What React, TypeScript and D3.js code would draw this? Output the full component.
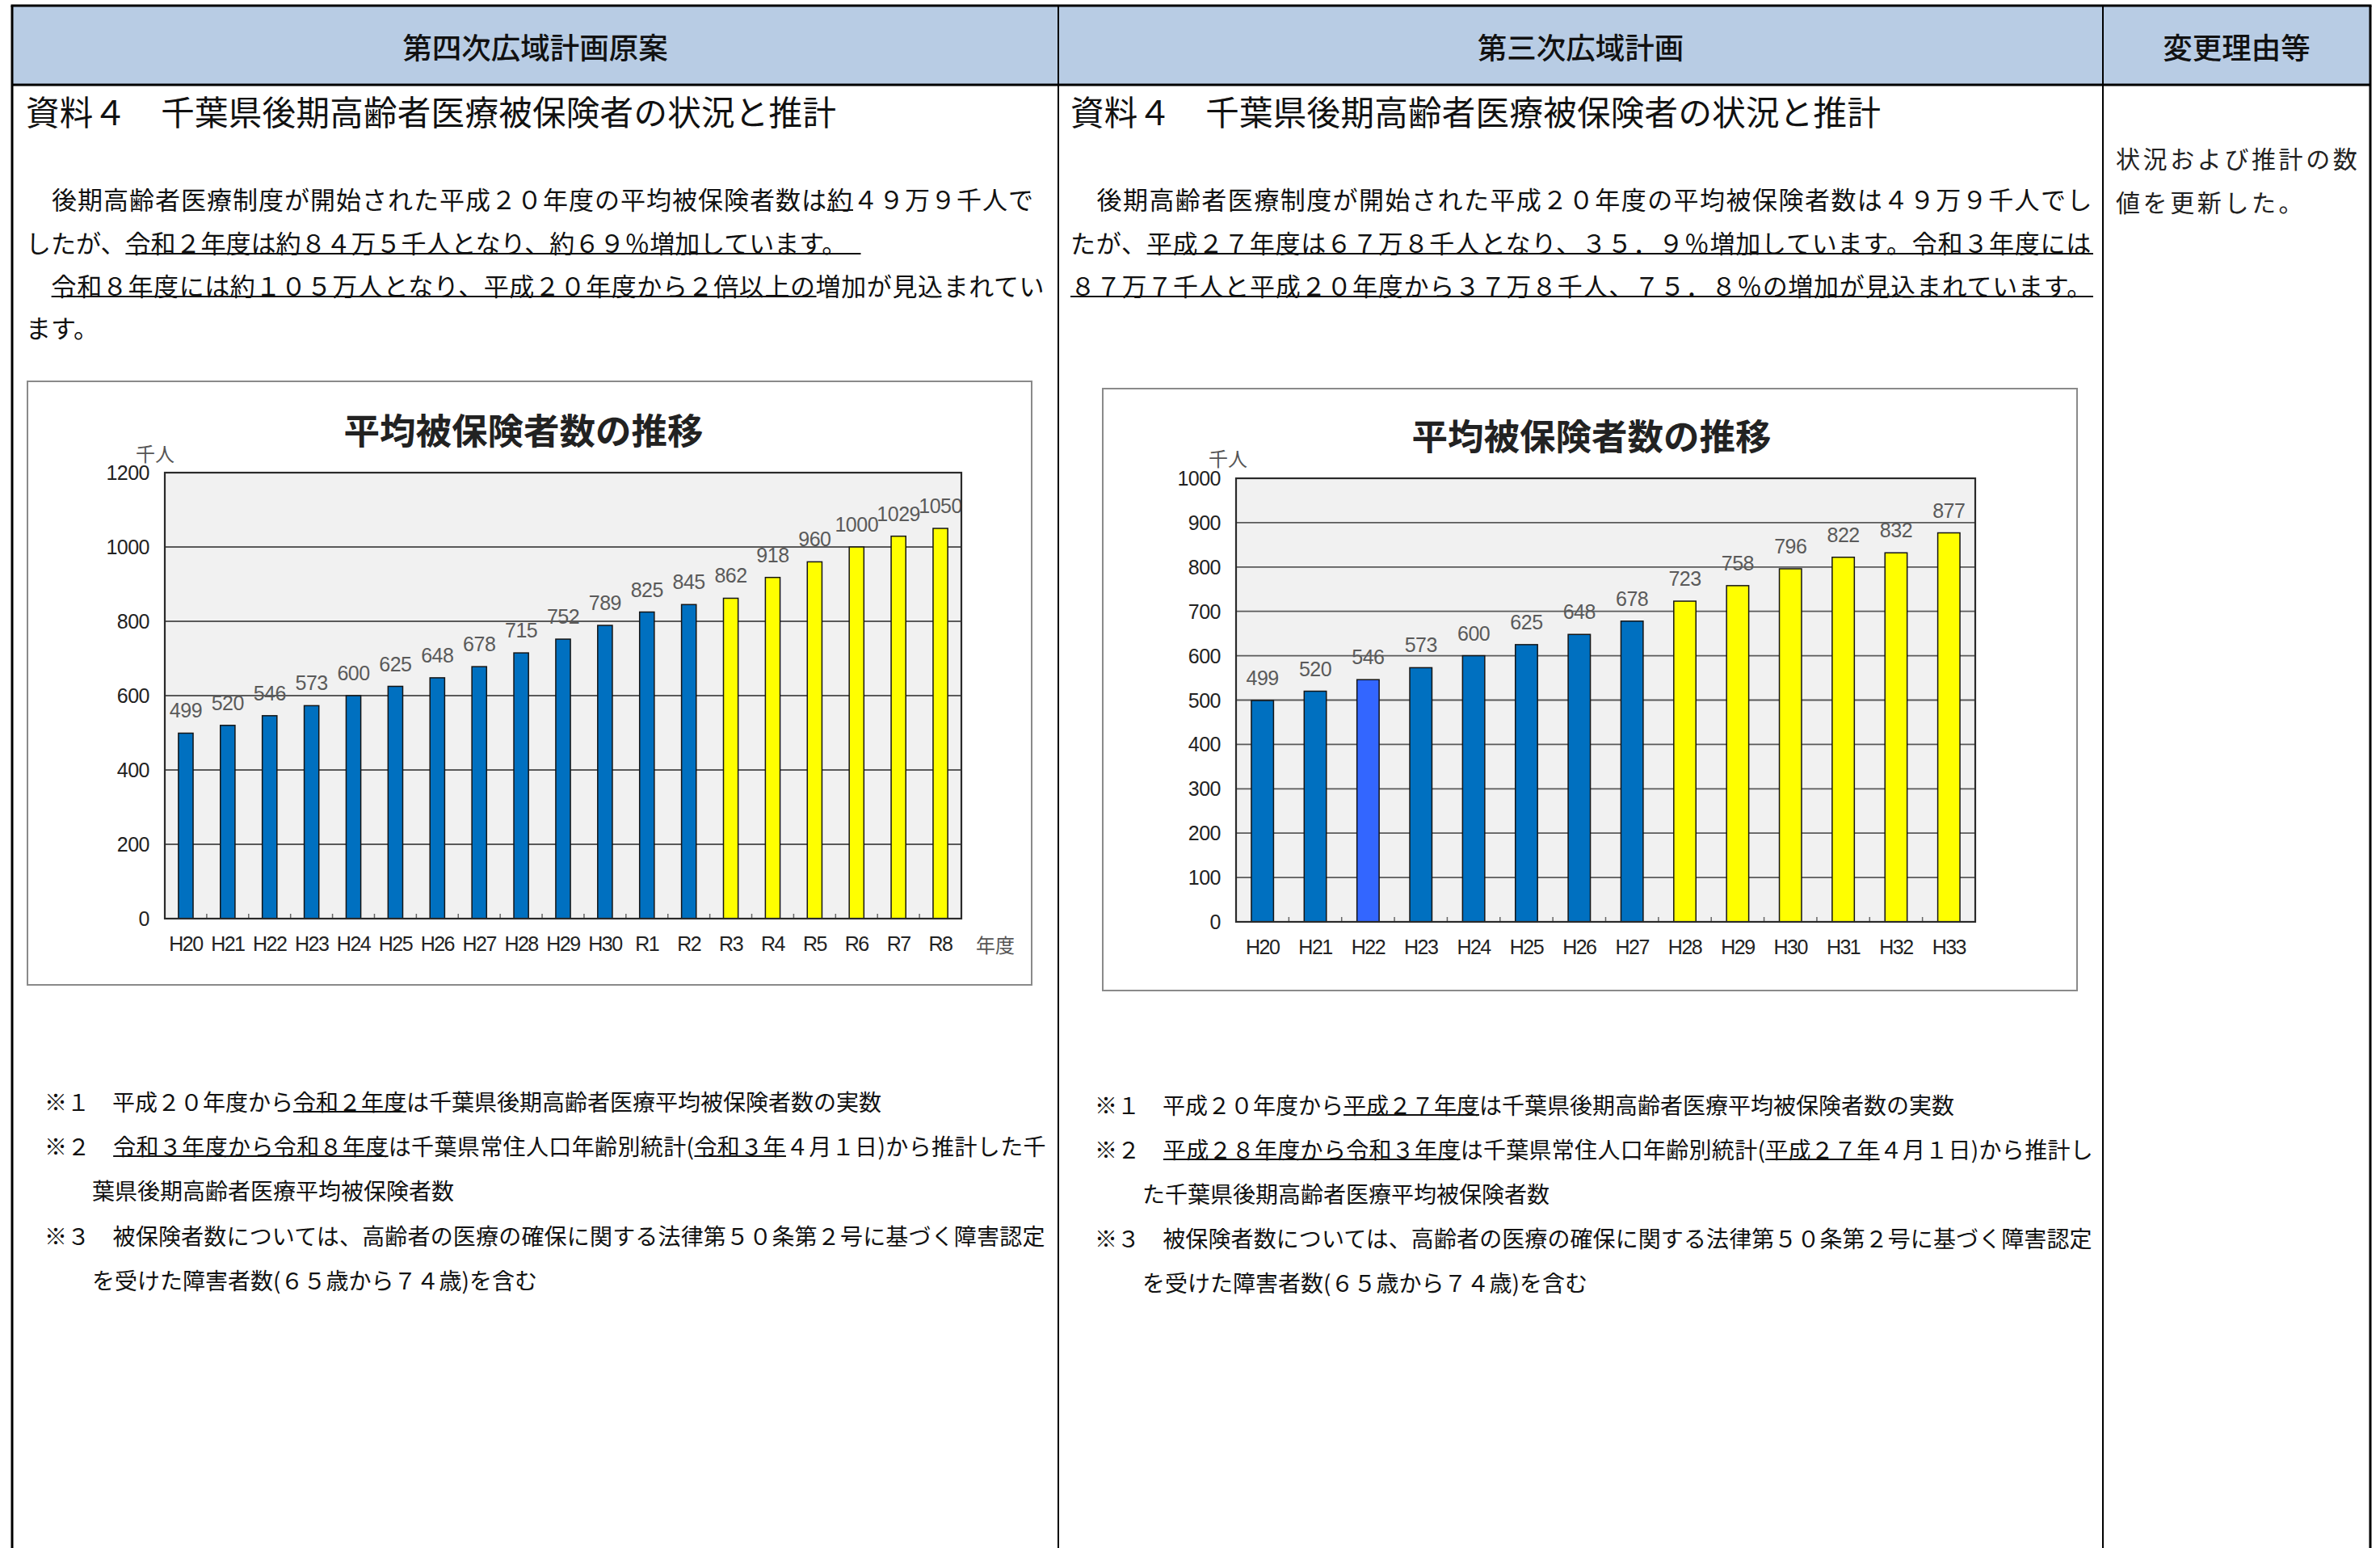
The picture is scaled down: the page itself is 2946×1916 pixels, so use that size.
import React from 'react';
import * as d3 from 'd3';

const JP = "'Noto Sans CJK JP', 'Noto Sans', sans-serif";
const LAT = "'Liberation Sans', Arial, sans-serif";

// ---------- chart data: 第四次広域計画原案 ----------
const newCategories = ['H20', 'H21', 'H22', 'H23', 'H24', 'H25', 'H26', 'H27', 'H28', 'H29', 'H30', 'R1', 'R2', 'R3', 'R4', 'R5', 'R6', 'R7', 'R8'];
const newValues = [499, 520, 546, 573, 600, 625, 648, 678, 715, 752, 789, 825, 845, 862, 918, 960, 1000, 1029, 1050];
const newKinds = ['actual', 'actual', 'actual', 'actual', 'actual', 'actual', 'actual', 'actual', 'actual', 'actual', 'actual', 'actual', 'actual', 'estimate', 'estimate', 'estimate', 'estimate', 'estimate', 'estimate'];
const newYTicks = [0, 200, 400, 600, 800, 1000, 1200];

// ---------- chart data: 第三次広域計画 ----------
const oldCategories = ['H20', 'H21', 'H22', 'H23', 'H24', 'H25', 'H26', 'H27', 'H28', 'H29', 'H30', 'H31', 'H32', 'H33'];
const oldValues = [499, 520, 546, 573, 600, 625, 648, 678, 723, 758, 796, 822, 832, 877];
const oldKinds = ['actual', 'actual', 'actualAlt', 'actual', 'actual', 'actual', 'actual', 'actual', 'estimate', 'estimate', 'estimate', 'estimate', 'estimate', 'estimate'];
const oldYTicks = [0, 100, 200, 300, 400, 500, 600, 700, 800, 900, 1000];

// ---------- texts ----------
const headerTexts = ['第四次広域計画原案', '第三次広域計画', '変更理由等'];
const docTitle = '資料４　千葉県後期高齢者医療被保険者の状況と推計';
const chartTitle = '平均被保険者数の推移';

type Seg = { t: string; u?: boolean };

const leftBody: Seg[][] = [
  [{ t: '　後期高齢者医療制度が開始された平成２０年度の平均被保険者数は' }, { t: '約', u: true }, { t: '４９万９千人で' }],
  [{ t: 'したが、' }, { t: '令和２年度は約８４万５千人となり、約６９％増加しています。　', u: true }],
  [{ t: '　' }, { t: '令和８年度には約１０５万人となり、平成２０年度から２倍以上の', u: true }, { t: '増加が見込まれてい' }],
  [{ t: 'ます。' }],
];
const rightBody: Seg[][] = [
  [{ t: '　後期高齢者医療制度が開始された平成２０年度の平均被保険者数は４９万９千人でし' }],
  [{ t: 'たが、' }, { t: '平成２７年度は６７万８千人となり、３５．９％増加しています。令和３年度には', u: true }],
  [{ t: '８７万７千人と平成２０年度から３７万８千人、７５．８％の増加が見込まれています。', u: true }],
];
const leftNotes: Seg[][] = [
  [{ t: '※１　平成２０年度から' }, { t: '令和２年度', u: true }, { t: 'は千葉県後期高齢者医療平均被保険者数の実数' }],
  [{ t: '※２　' }, { t: '令和３年度から令和８年度', u: true }, { t: 'は千葉県常住人口年齢別統計(' }, { t: '令和３年', u: true }, { t: '４月１日)から推計した千' }],
  [{ t: '葉県後期高齢者医療平均被保険者数' }],
  [{ t: '※３　被保険者数については、高齢者の医療の確保に関する法律第５０条第２号に基づく障害認定' }],
  [{ t: 'を受けた障害者数(６５歳から７４歳)を含む' }],
];
const rightNotes: Seg[][] = [
  [{ t: '※１　平成２０年度から' }, { t: '平成２７年度', u: true }, { t: 'は千葉県後期高齢者医療平均被保険者数の実数' }],
  [{ t: '※２　' }, { t: '平成２８年度から令和３年度', u: true }, { t: 'は千葉県常住人口年齢別統計(' }, { t: '平成２７年', u: true }, { t: '４月１日)から推計し' }],
  [{ t: 'た千葉県後期高齢者医療平均被保険者数' }],
  [{ t: '※３　被保険者数については、高齢者の医療の確保に関する法律第５０条第２号に基づく障害認定' }],
  [{ t: 'を受けた障害者数(６５歳から７４歳)を含む' }],
];
const reasonLines = ['状況および推計の数', '値を更新した。'];

// ---------- text measuring ----------
let ctxCache: CanvasRenderingContext2D | null = null;
function measure(text: string, font: string): number {
  if (!ctxCache) {
    const c = document.createElement('canvas');
    ctxCache = c.getContext('2d');
  }
  if (!ctxCache) return text.length * 30;
  ctxCache.font = font;
  return ctxCache.measureText(text).width;
}

function TLine({ x, y, size, segs, width, color = '#111', ulOff = 15 }: { x: number; y: number; size: number; segs: Seg[]; width?: number; color?: string; ulOff?: number }) {
  const font = `400 ${size}px ${JP}`;
  const full = segs.map((s) => s.t).join('');
  const n = Array.from(full).length;
  const natural = measure(full, font);
  const ls = width ? (width - natural) / n : 0;
  let cx = x;
  const ul: [number, number][] = [];
  segs.forEach((s) => {
    const w = measure(s.t, font) + ls * Array.from(s.t).length;
    if (s.u) ul.push([cx, cx + w]);
    cx += w;
  });
  return (
    <g>
      <text x={x} y={y} fontSize={size} fontFamily={JP} fill={color} dominantBaseline="central" letterSpacing={ls} style={{ whiteSpace: 'pre' }}>
        {full}
      </text>
      {ul.map(([a, b], i) => (
        <line key={i} x1={a} x2={b} y1={y + ulOff} y2={y + ulOff} stroke={color} strokeWidth={2} />
      ))}
    </g>
  );
}

const kindColor: Record<string, string> = { actual: '#0070C0', actualAlt: '#3366FF', estimate: '#FFFF00' };

type ChartProps = {
  frame: { x: number; y: number; w: number; h: number };
  plot: { l: number; t: number; r: number; b: number };
  cats: string[];
  vals: number[];
  kinds: string[];
  ticks: number[];
  barRatio: number;
  titleX: number;
  titleY: number;
  unitX: number;
  unitY: number;
  xUnitX?: number;
};

function BarChart(p: ChartProps) {
  const { frame, plot, cats, vals, kinds, ticks } = p;
  const x = d3.scaleBand().domain(cats).range([plot.l, plot.r]).paddingInner(0).paddingOuter(0);
  const y = d3.scaleLinear().domain([0, d3.max(ticks) as number]).range([plot.b, plot.t]);
  const bw = x.bandwidth();
  const barW = bw * p.barRatio;
  return (
    <g>
      <rect x={frame.x} y={frame.y} width={frame.w} height={frame.h} fill="#fff" stroke="#8a8a8a" strokeWidth={2} />
      <text x={p.titleX} y={p.titleY} fontSize={44.5} fontWeight={700} fontFamily={JP} fill="#222" textAnchor="middle" dominantBaseline="central">
        {chartTitle}
      </text>
      <text x={p.unitX} y={p.unitY} fontSize={24} fontFamily={JP} fill="#555" textAnchor="middle" dominantBaseline="central">
        千人
      </text>
      <rect x={plot.l} y={plot.t} width={plot.r - plot.l} height={plot.b - plot.t} fill="#F1F1F1" />
      {ticks.filter((t) => t > 0 && t < (d3.max(ticks) as number)).map((t) => (
        <line key={t} x1={plot.l} x2={plot.r} y1={y(t)} y2={y(t)} stroke="#5a5a5a" strokeWidth={1.8} />
      ))}
      {ticks.map((t) => (
        <text key={'yl' + t} x={plot.l - 19} y={y(t)} fontSize={25} fontFamily={LAT} fill="#222" textAnchor="end" dominantBaseline="central" letterSpacing={-0.5}>
          {t}
        </text>
      ))}
      {cats.slice(1).map((c) => (
        <line key={'tk' + c} x1={x(c) as number} x2={x(c) as number} y1={plot.b} y2={plot.b - 6} stroke="#666" strokeWidth={1.5} />
      ))}
      {cats.map((c, i) => {
        const cx = (x(c) as number) + bw / 2;
        return (
          <g key={'b' + c}>
            <rect x={cx - barW / 2} y={y(vals[i])} width={barW} height={plot.b - y(vals[i])} fill={kindColor[kinds[i]]} stroke="#151515" strokeWidth={1.5} />
            <text x={cx} y={y(vals[i]) - 28} fontSize={25} fontFamily={LAT} fill="#5a5a5a" textAnchor="middle" dominantBaseline="central" letterSpacing={-0.5}>
              {vals[i]}
            </text>
            <text x={cx} y={plot.b + 31} fontSize={25} fontFamily={LAT} fill="#222" textAnchor="middle" dominantBaseline="central" letterSpacing={-1.5}>
              {c}
            </text>
          </g>
        );
      })}
      <rect x={plot.l} y={plot.t} width={plot.r - plot.l} height={plot.b - plot.t} fill="none" stroke="#2a2a2a" strokeWidth={2.2} />
      {p.xUnitX !== undefined && (
        <text x={p.xUnitX} y={plot.b + 31} fontSize={24} fontFamily={JP} fill="#555" textAnchor="middle" dominantBaseline="central">
          年度
        </text>
      )}
    </g>
  );
}

export default function App() {
  const W = 2946;
  const H = 1916;
  const tblL = 15;
  const tblR = 2934;
  const div1 = 1310;
  const div2 = 2603;
  const tblT = 7;
  const hdrB = 105;
  const bodyYs = [245, 299, 352, 404];
  const noteYsL = [1363, 1418, 1473, 1529, 1584];
  const noteYsR = [1367, 1422, 1477, 1532, 1587];
  const leftBodyW = [1248, undefined, 1263, undefined];
  const rightBodyW = [1266, 1266, 1266];
  const leftNoteW = [undefined, 1240, undefined, 1240, undefined];
  const rightNoteW = [undefined, 1236, undefined, 1236, undefined];
  const leftNoteX = [55, 55, 114, 55, 114];
  const rightNoteX = [1355, 1355, 1414, 1355, 1414];
  return (
    <svg width={W} height={H} viewBox={`0 0 ${W} ${H}`} style={{ position: 'absolute', left: 0, top: 0, display: 'block', background: '#fff' }}>
      <rect x={0} y={0} width={W} height={H} fill="#fff" />
      {/* table */}
      <rect x={tblL} y={tblT} width={tblR - tblL} height={hdrB - tblT} fill="#B8CCE4" />
      <line x1={tblL - 1.5} x2={tblR + 1.5} y1={tblT} y2={tblT} stroke="#000" strokeWidth={3} />
      <line x1={tblL} x2={tblR} y1={hdrB} y2={hdrB} stroke="#000" strokeWidth={3} />
      <line x1={tblL} x2={tblL} y1={tblT} y2={H} stroke="#000" strokeWidth={3} />
      <line x1={tblR} x2={tblR} y1={tblT} y2={H} stroke="#000" strokeWidth={3} />
      <line x1={div1} x2={div1} y1={tblT} y2={H} stroke="#000" strokeWidth={2} />
      <line x1={div2} x2={div2} y1={tblT} y2={H} stroke="#000" strokeWidth={2} />
      {[(tblL + div1) / 2, (div1 + div2) / 2, (div2 + tblR) / 2].map((cx, i) => (
        <text key={i} x={cx} y={57} fontSize={36.5} fontWeight={500} fontFamily={JP} fill="#111" textAnchor="middle" dominantBaseline="central">
          {headerTexts[i]}
        </text>
      ))}
      {/* titles */}
      <text x={32} y={137} fontSize={41.5} fontFamily={JP} fill="#111" dominantBaseline="central" letterSpacing={0.3} style={{ whiteSpace: 'pre' }}>{docTitle}</text>
      <text x={1325} y={137} fontSize={41.5} fontFamily={JP} fill="#111" dominantBaseline="central" letterSpacing={0.3} style={{ whiteSpace: 'pre' }}>{docTitle}</text>
      {/* body text */}
      {leftBody.map((segs, i) => (
        <TLine key={'lb' + i} x={32} y={bodyYs[i]} size={31} segs={segs} width={leftBodyW[i]} />
      ))}
      {rightBody.map((segs, i) => (
        <TLine key={'rb' + i} x={1325} y={bodyYs[i]} size={31} segs={segs} width={rightBodyW[i]} />
      ))}
      {reasonLines.map((t, i) => (
        <text key={'rs' + i} x={2619} y={195 + i * 54} fontSize={30} fontFamily={JP} fill="#222" dominantBaseline="central" letterSpacing={3.6}>
          {t}
        </text>
      ))}
      {/* charts */}
      <BarChart
        frame={{ x: 34, y: 472, w: 1243, h: 747 }}
        plot={{ l: 204, t: 585, r: 1190, b: 1137 }}
        cats={newCategories}
        vals={newValues}
        kinds={newKinds}
        ticks={newYTicks}
        barRatio={0.35}
        titleX={648}
        titleY={530}
        unitX={192}
        unitY={560}
        xUnitX={1232}
      />
      <BarChart
        frame={{ x: 1365, y: 481, w: 1206, h: 745 }}
        plot={{ l: 1530, t: 592, r: 2445, b: 1141 }}
        cats={oldCategories}
        vals={oldValues}
        kinds={oldKinds}
        ticks={oldYTicks}
        barRatio={0.42}
        titleX={1970}
        titleY={537}
        unitX={1520}
        unitY={566}
      />
      {/* footnotes */}
      {leftNotes.map((segs, i) => (
        <TLine key={'ln' + i} x={leftNoteX[i]} y={noteYsL[i]} size={28} segs={segs} width={leftNoteW[i]} ulOff={13} />
      ))}
      {rightNotes.map((segs, i) => (
        <TLine key={'rn' + i} x={rightNoteX[i]} y={noteYsR[i]} size={28} segs={segs} width={rightNoteW[i]} ulOff={13} />
      ))}
    </svg>
  );
}
